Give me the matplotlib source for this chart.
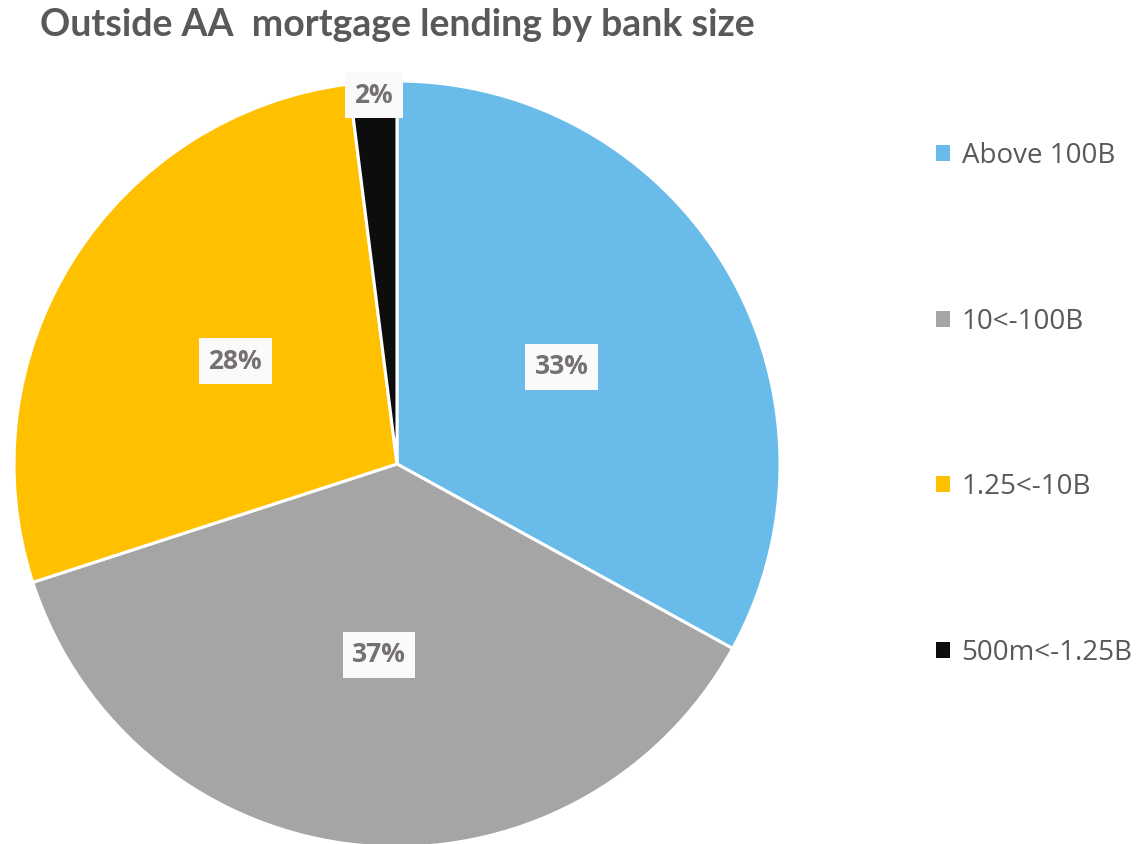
import matplotlib
matplotlib.use("Agg")
import matplotlib.pyplot as plt
from matplotlib.patches import Patch

categories = ["Above 100B", "10<-100B", "1.25<-10B", "500m<-1.25B"]
shares = [33, 37, 28, 2]
colors = ["#69BCEA", "#A5A5A5", "#FFC000", "#0D0D0D"]
title = "Outside AA  mortgage lending by bank size"

W, H = 1137, 844
fig = plt.figure(figsize=(W / 100, H / 100), dpi=100)

# pie axes: centre (397, 464) px, radius 383 px
cx, cy, r = 397, 464, 383
ax = fig.add_axes([(cx - r) / W, (H - cy - r) / H, 2 * r / W, 2 * r / H])

wedges, texts, autotexts = ax.pie(
    shares,
    colors=colors,
    startangle=90,
    counterclock=False,
    autopct=lambda p: f"{p:.0f}%",
    pctdistance=0.5,
    wedgeprops=dict(edgecolor="white", linewidth=2.2),
    textprops=dict(family="Open Sans", fontsize=19, fontweight="bold", color="#767171"),
)
ax.set_xlim(-1, 1)
ax.set_ylim(-1, 1)
ax.set_aspect("equal")

for t in autotexts:
    t.set_bbox(dict(facecolor="#FAFAFA", edgecolor="none", boxstyle="square,pad=0.36"))

# the small slice gets its label pushed out to the rim
x, y = autotexts[3].get_position()
autotexts[3].set_position((x / 0.5 * 0.965, y / 0.5 * 0.965))

fig.text(40 / W, 1 - 25 / H, title, family="Lato", fontweight="bold", fontsize=27,
         color="#595959", ha="left", va="center")

handles = [Patch(facecolor=c, edgecolor="none") for c in colors]
leg = fig.legend(handles, categories, loc="upper left", bbox_to_anchor=(925 / W, 1 - 131 / H),
                 frameon=False, prop=dict(family="Open Sans", size=20),
                 labelcolor="#595959", handlelength=0.5, handleheight=0.5,
                 handletextpad=0.42, labelspacing=4.95, borderaxespad=0)

fig.savefig("out.png", dpi=100, facecolor="white")
